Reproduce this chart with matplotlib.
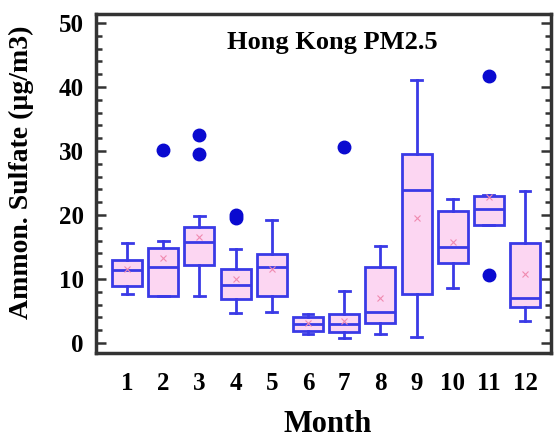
import matplotlib
matplotlib.use("Agg")
import matplotlib.pyplot as plt
from matplotlib.ticker import MultipleLocator

months = [1, 2, 3, 4, 5, 6, 7, 8, 9, 10, 11, 12]
q1 = [8.9, 7.3, 12.2, 6.9, 7.3, 1.9, 1.8, 3.1, 7.6, 12.5, 18.4, 5.7]
med = [11.4, 11.9, 15.8, 9.1, 11.9, 2.9, 3.0, 4.9, 23.9, 15.0, 20.9, 7.0]
q3 = [13.0, 14.8, 18.1, 11.5, 13.9, 4.1, 4.6, 11.9, 29.5, 20.6, 23.0, 15.7]
whislo = [7.7, 7.3, 7.3, 4.7, 4.9, 1.4, 0.8, 1.4, 0.9, 8.6, 18.4, 3.5]
whishi = [15.6, 16.0, 19.8, 14.7, 19.2, 4.6, 8.2, 15.2, 41.1, 22.5, 23.2, 23.7]
means = [11.5, 13.3, 16.5, 10.0, 11.6, 3.2, 3.5, 7.0, 19.5, 15.8, 22.8, 10.8]
fliers = [[], [30.2], [32.5, 29.5], [19.5, 20.0], [], [], [30.7], [], [], [],
          [41.7, 10.6], []]

serif = "Liberation Serif"
edge = "#3a3ae6"
fill = "#fcd6f2"

stats = [dict(med=m, q1=a, q3=b, whislo=lo, whishi=hi, mean=mn, fliers=f)
         for m, a, b, lo, hi, mn, f in zip(med, q1, q3, whislo, whishi, means, fliers)]

fig = plt.figure(figsize=(5.55, 4.38), dpi=100)
ax = fig.add_axes([0.173, 0.194, 0.820, 0.774])

ax.bxp(stats, positions=months, widths=0.83, patch_artist=True, showmeans=True,
       boxprops=dict(facecolor=fill, edgecolor=edge, linewidth=2),
       medianprops=dict(color=edge, linewidth=2),
       whiskerprops=dict(color=edge, linewidth=2),
       capprops=dict(color=edge, linewidth=2),
       capwidths=0.3,
       flierprops=dict(marker="o", markerfacecolor="#0a0ad0", markeredgecolor="#0a0ad0",
                       markersize=9),
       meanprops=dict(marker="x", markeredgecolor="#f08ab0", markersize=4,
                      markeredgewidth=0.8))

ax.set_xlim(0.14, 12.72)
ax.set_ylim(-1.56, 51.4)
ax.yaxis.set_major_locator(MultipleLocator(10))
ax.yaxis.set_minor_locator(MultipleLocator(2))
ax.tick_params(axis="y", which="both", direction="in", left=True, right=True, width=1.8,
               color="#333333", pad=9)
ax.tick_params(axis="y", which="major", length=7)
ax.tick_params(axis="y", which="minor", length=4)
ax.tick_params(axis="x", which="both", bottom=False, top=False, pad=10)
ax.set_xticks(months)
ax.set_xticklabels([str(m) for m in months])
for lab in ax.get_xticklabels() + ax.get_yticklabels():
    lab.set_fontfamily(serif)
    lab.set_fontweight("bold")
    lab.set_fontsize(18)
for s in ax.spines.values():
    s.set_linewidth(2.5)
    s.set_color("#333333")

ax.text(0.52, 0.915, "Hong Kong PM2.5", transform=ax.transAxes, ha="center", va="center",
        fontfamily=serif, fontweight="bold", fontsize=19)
ax.set_ylabel("Ammon. Sulfate (\u00b5g/m3)", fontfamily=serif, fontweight="bold",
              fontsize=20, va="center")
ax.yaxis.set_label_coords(-0.163, 0.534)
ax.set_xlabel("Month", fontfamily=serif, fontweight="bold", fontsize=22, va="center")
ax.xaxis.set_label_coords(0.508, -0.212)

fig.savefig("out.png", facecolor="white")
